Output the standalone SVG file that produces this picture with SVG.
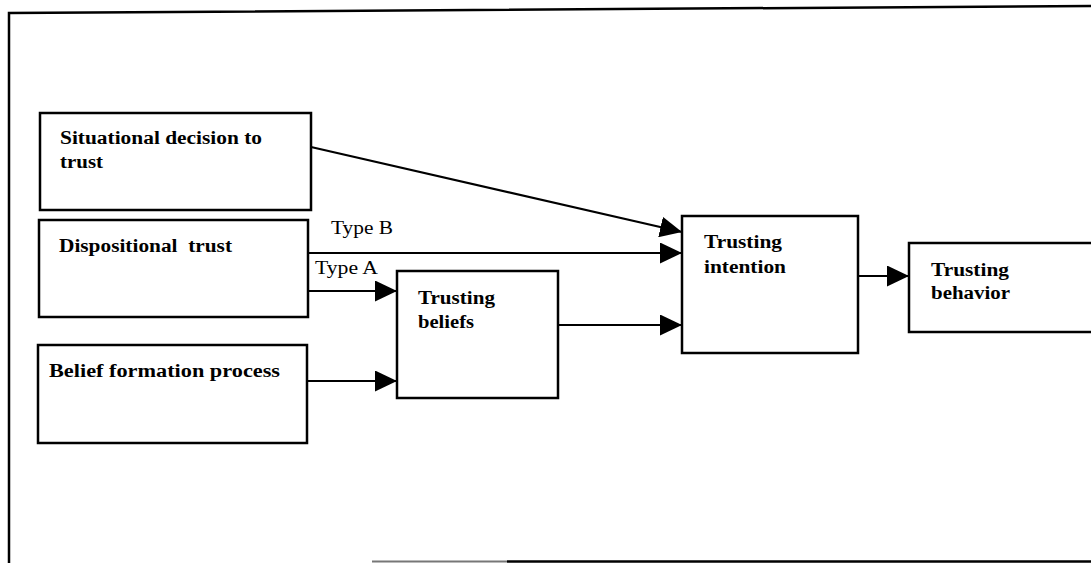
<svg xmlns="http://www.w3.org/2000/svg" width="1091" height="563" viewBox="0 0 1091 563">
  <style>
    .box { fill: #fff; stroke: #000; stroke-width: 2.5; }
    .edge { fill: none; stroke: #000; stroke-width: 2.2; }
    .frame { fill: none; stroke: #000; stroke-width: 2.5; }
    .lbl { font-family: "Liberation Serif", "Times New Roman", serif; font-size: 18.5px; font-weight: bold; fill: #000; }
    .tag { font-family: "Liberation Serif", "Times New Roman", serif; font-size: 19px; fill: #000; }
  </style>
  <defs>
    <marker id="arrow" viewBox="0 0 22 21" refX="22" refY="10.5" markerWidth="22" markerHeight="21" markerUnits="userSpaceOnUse" orient="auto">
      <path d="M0,0 L22,10.5 L0,21 Z" fill="#000"/>
    </marker>
  </defs>
  <rect width="1091" height="563" fill="#fff"/>

  <!-- outer frame -->
  <g id="frame">
    <path class="frame" d="M9,563 L9,13 L1091,6"/>
    <line x1="372" y1="561.5" x2="507" y2="561.5" stroke="#777" stroke-width="2"/>
    <line x1="507" y1="561.5" x2="1091" y2="561.5" stroke="#000" stroke-width="2.5"/>
  </g>

  <!-- connectors -->
  <g id="connectors">
    <line class="edge" x1="311" y1="147" x2="682" y2="232" marker-end="url(#arrow)"/>
    <line class="edge" x1="308" y1="253" x2="682" y2="253" marker-end="url(#arrow)"/>
    <line class="edge" x1="308" y1="291" x2="397" y2="291" marker-end="url(#arrow)"/>
    <line class="edge" x1="307" y1="381" x2="397" y2="381" marker-end="url(#arrow)"/>
    <line class="edge" x1="558" y1="325" x2="682" y2="325" marker-end="url(#arrow)"/>
    <line class="edge" x1="858" y1="276" x2="909" y2="276" marker-end="url(#arrow)"/>
    <text class="tag" x="331" y="234" textLength="62" lengthAdjust="spacingAndGlyphs">Type B</text>
    <text class="tag" x="315" y="274" textLength="63" lengthAdjust="spacingAndGlyphs">Type A</text>
  </g>

  <g id="situational">
    <rect class="box" x="40" y="113" width="271" height="97"/>
    <text class="lbl" x="60" y="144" textLength="202" lengthAdjust="spacingAndGlyphs">Situational decision to</text>
    <text class="lbl" x="60" y="168" textLength="43" lengthAdjust="spacingAndGlyphs">trust</text>
  </g>

  <g id="dispositional">
    <rect class="box" x="39" y="220" width="269" height="97"/>
    <text class="lbl" x="59" y="252" textLength="173" lengthAdjust="spacingAndGlyphs" xml:space="preserve">Dispositional  trust</text>
  </g>

  <g id="belief-formation">
    <rect class="box" x="38" y="345" width="269" height="98"/>
    <text class="lbl" x="49" y="377" textLength="231" lengthAdjust="spacingAndGlyphs">Belief formation process</text>
  </g>

  <g id="trusting-beliefs">
    <rect class="box" x="397" y="271" width="161" height="127"/>
    <text class="lbl" x="418" y="304" textLength="77" lengthAdjust="spacingAndGlyphs">Trusting</text>
    <text class="lbl" x="418" y="328" textLength="56" lengthAdjust="spacingAndGlyphs">beliefs</text>
  </g>

  <g id="trusting-intention">
    <rect class="box" x="682" y="216" width="176" height="137"/>
    <text class="lbl" x="704" y="248" textLength="78" lengthAdjust="spacingAndGlyphs">Trusting</text>
    <text class="lbl" x="704" y="273" textLength="82" lengthAdjust="spacingAndGlyphs">intention</text>
  </g>

  <g id="trusting-behavior">
    <rect class="box" x="909" y="243" width="190" height="89"/>
    <text class="lbl" x="931" y="276" textLength="78" lengthAdjust="spacingAndGlyphs">Trusting</text>
    <text class="lbl" x="931" y="299" textLength="79" lengthAdjust="spacingAndGlyphs">behavior</text>
  </g>
</svg>
